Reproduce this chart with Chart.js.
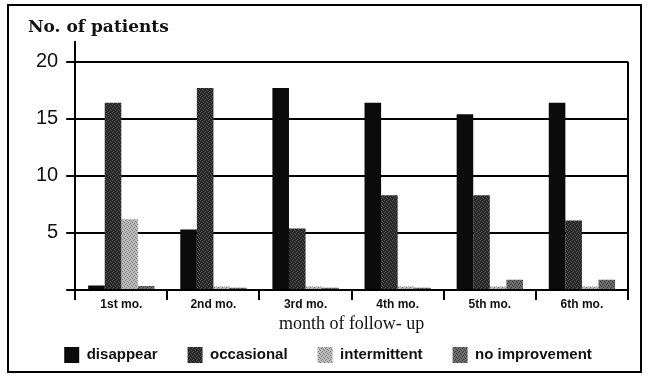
<!DOCTYPE html>
<html>
<head>
<meta charset="utf-8">
<script src="https://cdn.jsdelivr.net/npm/chart.js@4.4.1/dist/chart.umd.min.js"></script>
<style>
  html, body { margin: 0; padding: 0; background: #fff; }
  #wrap { width: 649px; height: 379px; }
</style>
</head>
<body>
<div id="wrap"><canvas id="chart" width="649" height="379"></canvas></div>
<script>
const months = ["1st mo.", "2nd mo.", "3rd mo.", "4th mo.", "5th mo.", "6th mo."];
const disappear = [0.4, 5.3, 17.7, 16.4, 15.4, 16.4];
const occasional = [16.4, 17.7, 5.4, 8.3, 8.3, 6.1];
const intermittent = [6.2, 0.3, 0.3, 0.3, 0.3, 0.3];
const noImprovement = [0.35, 0.2, 0.2, 0.2, 0.9, 0.9];
const yTicks = [0, 5, 10, 15, 20];

// deterministic stipple texture, to look like the scanned hatching
function stipple(base, dot, cells) {
  const c = document.createElement("canvas");
  c.width = 4; c.height = 4;
  const g = c.getContext("2d");
  g.fillStyle = base;
  g.fillRect(0, 0, 4, 4);
  g.fillStyle = dot;
  cells.forEach(([x, y]) => g.fillRect(x, y, 1, 1));
  return g.createPattern(c, "repeat");
}

const ctx = document.getElementById("chart").getContext("2d");

const fills = {
  disappear: "#0b0b0b",
  occasional: stipple("#262626", "#575757", [[0, 0], [2, 1], [1, 3], [3, 2]]),
  intermittent: stipple("#bdbdbd", "#7a7a7a", [[1, 0], [3, 1], [0, 2], [2, 3]]),
  noImprovement: stipple("#6e6e6e", "#383838", [[0, 1], [2, 0], [3, 3], [1, 2]])
};

const frame = {
  id: "frame",
  beforeDraw(chart) {
    const c = chart.ctx;
    c.save();
    c.fillStyle = "#fff";
    c.fillRect(0, 0, chart.width, chart.height);
    c.restore();
  },
  afterDraw(chart) {
    const c = chart.ctx;
    const y = chart.scales.y;
    const a = chart.chartArea;
    c.save();
    c.strokeStyle = "#000";
    c.lineWidth = 2;
    c.strokeRect(8, 5, 633, 367);
    c.beginPath();
    c.moveTo(a.right, y.getPixelForValue(20));
    c.lineTo(a.right, y.getPixelForValue(0));
    c.stroke();
    c.restore();
  }
};

new Chart(ctx, {
  type: "bar",
  data: {
    labels: months,
    datasets: [
      { label: "disappear", data: disappear, backgroundColor: fills.disappear },
      { label: "occasional", data: occasional, backgroundColor: fills.occasional },
      { label: "intermittent", data: intermittent, backgroundColor: fills.intermittent },
      { label: "no improvement", data: noImprovement, backgroundColor: fills.noImprovement }
    ]
  },
  options: {
    responsive: false,
    animation: false,
    layout: { padding: { left: 28, right: 21, top: 17, bottom: 6 } },
    datasets: { bar: { categoryPercentage: 0.72, barPercentage: 1 } },
    scales: {
      x: {
        offset: true,
        grid: { offset: true, drawOnChartArea: false, color: "#000", lineWidth: 2, tickLength: 10 },
        border: { color: "#000", width: 2 },
        ticks: { color: "#111", padding: -3, font: { family: "Liberation Sans", size: 12, weight: "bold" } },
        title: {
          display: true,
          text: "month of follow- up",
          color: "#111",
          padding: { top: 5, bottom: -18 },
          font: { family: "Liberation Serif", size: 18 }
        }
      },
      y: {
        min: 0,
        max: 21.7,
        afterBuildTicks(axis) {
          axis.ticks = yTicks.map(v => ({ value: v }));
        },
        grid: { color: "#000", lineWidth: 2, tickLength: 9 },
        border: { color: "#000", width: 2 },
        ticks: {
          color: "#111",
          padding: 8,
          font: { family: "Liberation Sans", size: 20 },
          callback: v => (v === 0 ? "" : v)
        }
      }
    },
    plugins: {
      title: {
        display: true,
        text: "No. of patients",
        align: "start",
        color: "#111",
        padding: { top: 0, bottom: 5 },
        font: { family: "DejaVu Serif", size: 17, weight: "bold" }
      },
      legend: {
        position: "bottom",
        labels: {
          color: "#111",
          boxWidth: 15,
          boxHeight: 16,
          padding: 30,
          font: { family: "Liberation Sans", size: 15, weight: "bold" }
        }
      },
      tooltip: { enabled: false }
    }
  },
  plugins: [frame]
});
</script>
</body>
</html>
